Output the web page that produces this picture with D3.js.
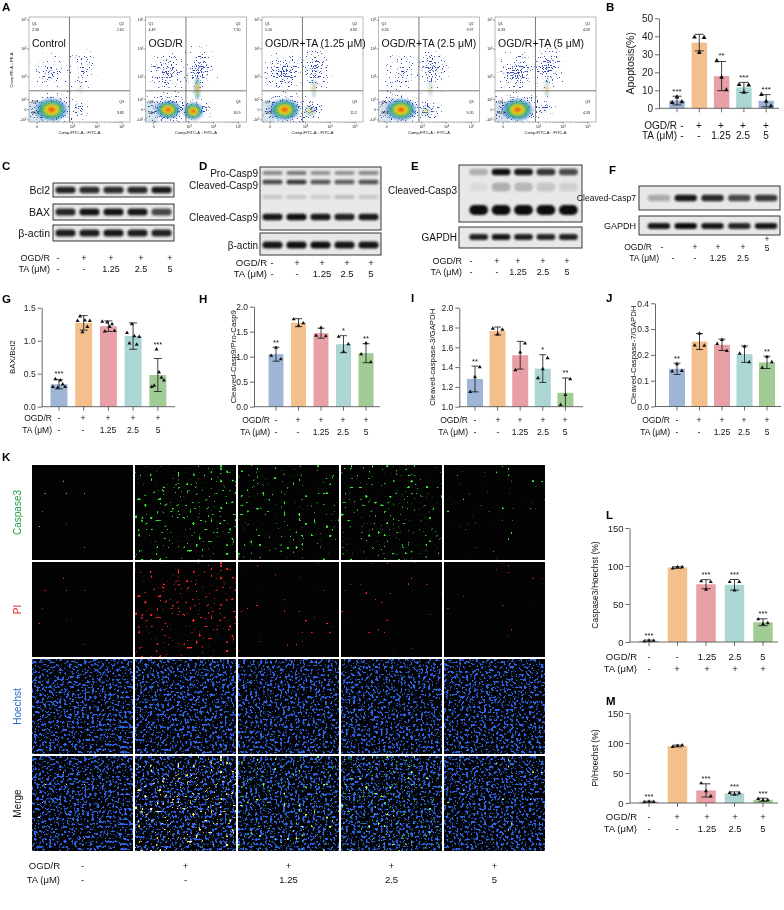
<!DOCTYPE html>
<html>
<head>
<meta charset="utf-8">
<script src="https://cdn.jsdelivr.net/npm/d3@7"></script>
<style>
html, body { margin: 0; padding: 0; background: #fff; }
svg { display: block; }
</style>
</head>
<body>
<svg id="fig" width="784" height="910"></svg>
<script>
// ---------------- data ----------------
// A: flow cytometry, quadrant percentages
var flowGroups = ["Control", "OGD/R", "OGD/R+TA (1.25 μM)", "OGD/R+TA (2.5 μM)", "OGD/R+TA (5 μM)"];
var flowQ1 = [2.58, 4.49, 5.16, 3.26, 6.33];
var flowQ2 = [2.61, 7.90, 4.82, 3.97, 4.59];
var flowQ3 = [3.85, 30.9, 11.2, 9.20, 4.33];
var flowQ4 = [91.0, 56.7, 78.8, 83.6, 84.8];

// treatment rows
var ogdRow = ["-", "+", "+", "+", "+"];
var taRow = ["-", "-", "1.25", "2.5", "5"];

// B: apoptosis (%)
var apoMean = [4.3, 36.5, 17.9, 11.6, 4.2];
var apoSD = [2.4, 4.6, 8.1, 2.8, 3.4];
var apoPts = [[3.2, 6.2, 3.6], [39.5, 31.0, 39.3], [26.4, 17.2, 10.2], [13.1, 8.8, 12.9], [7.6, 3.8, 1.2]];
var apoSig = ["***", "", "**", "***", "***"];

// C-F: band intensities per lane (0-1)
var bcl2Band = [0.9, 0.86, 0.86, 0.88, 0.94];
var baxBand = [0.88, 0.96, 0.96, 0.95, 0.72];
var actinCBand = [0.92, 0.92, 0.94, 0.92, 0.9];
var proCasp9Band = [0.42, 0.5, 0.38, 0.38, 0.42];
var clCasp9UpBand = [0.72, 0.8, 0.66, 0.62, 0.68];
var clCasp9FaintBand = [0.14, 0.14, 0.12, 0.2, 0.14];
var clCasp9Band = [0.95, 0.98, 0.94, 0.9, 0.93];
var actinDBand = [0.95, 0.98, 0.98, 0.95, 0.95];
var clCasp3UpBand = [0.25, 0.98, 0.95, 0.82, 0.72];
var clCasp3MidBand = [0.05, 0.25, 0.22, 0.15, 0.1];
var clCasp3Band = [1, 1, 1, 1, 1];
var gapdhEBand = [0.9, 0.95, 0.9, 0.88, 0.9];
var clCasp7Band = [0.28, 0.95, 0.88, 0.72, 0.8];
var gapdhFBand = [0.95, 1, 0.95, 0.88, 0.95];

// G: BAX/Bcl2
var baxMean = [0.34, 1.27, 1.22, 1.07, 0.48];
var baxSD = [0.07, 0.11, 0.08, 0.2, 0.25];
var baxPts = [[0.3, 0.42, 0.29, 0.4, 0.34, 0.3], [1.3, 1.37, 1.13, 1.31, 1.21, 1.3], [1.29, 1.14, 1.28, 1.21, 1.25, 1.15], [1.12, 0.96, 1.25, 1.07, 0.94, 1.06], [0.3, 0.32, 0.87, 0.52, 0.44, 0.4]];
var baxSig = ["***", "", "", "", "***"];

// H: Cleaved-Casp9/Pro-Casp9
var c9Mean = [1.05, 1.68, 1.47, 1.25, 1.07];
var c9SD = [0.14, 0.08, 0.1, 0.17, 0.19];
var c9Pts = [[1.02, 1.18, 0.95], [1.75, 1.62, 1.67], [1.42, 1.58, 1.41], [1.4, 1.1, 1.25], [1.05, 1.27, 0.89]];
var c9Sig = ["**", "", "", "*", "**"];

// I: Cleaved-caspase-3/GAPDH
var c3Mean = [1.28, 1.765, 1.52, 1.385, 1.14];
var c3SD = [0.13, 0.04, 0.14, 0.14, 0.15];
var c3Pts = [[1.15, 1.3, 1.4], [1.79, 1.73, 1.78], [1.37, 1.55, 1.64], [1.29, 1.38, 1.49], [1.02, 1.12, 1.28]];
var c3Sig = ["**", "", "", "*", "**"];

// J: Cleaved-Caspase-7/GAPDH
var c7Mean = [0.146, 0.252, 0.239, 0.203, 0.171];
var c7SD = [0.022, 0.031, 0.022, 0.032, 0.024];
var c7Pts = [[0.136, 0.164, 0.138], [0.237, 0.283, 0.236], [0.243, 0.258, 0.216], [0.205, 0.232, 0.172], [0.15, 0.192, 0.172]];
var c7Sig = ["**", "", "", "", "**"];

// K: immunofluorescence rows
var kRows = ["Caspase3", "PI", "Hoechst", "Merge"];

// L: Caspase3/Hoechst (%)
var casp3Mean = [1.5, 98, 76, 75.3, 26];
var casp3SD = [1, 1, 6, 7, 4.5];
var casp3Pts = [[1, 1.8, 1.7], [97, 98.5, 98.5], [80, 69, 79], [79, 68, 79], [30, 23.5, 25]];
var casp3Sig = ["***", "", "***", "***", "***"];
var lOgdRow = ["-", "-", "1.25", "2.5", "5"];
var lTaRow = ["-", "+", "+", "+", "+"];

// M: PI/Hoechst (%)
var piMean = [2, 95, 21, 16, 5.5];
var piSD = [1, 1.5, 11, 2.5, 2.5];
var piPts = [[1.5, 2.5, 2], [93.5, 95.5, 96], [33, 20, 11], [17, 14.5, 16.5], [7, 4.5, 5]];
var piSig = ["***", "", "***", "***", "***"];

// ---------------- drawing ----------------
var FONT = "'Liberation Sans', Arial, Helvetica, sans-serif";
var svg = d3.select("#fig").attr("font-family", FONT);
var defs = svg.append("defs");
var barColors = ["#9fb5d6", "#f3bf8d", "#e8a0a6", "#abd6d3", "#a2cc95"];
var apoColors = ["#9fb5d6", "#f3bf8d", "#e8a0a6", "#abd6d3", "#9fb5d6"];

function txt(parent, x, y, s, size, opt) {
    opt = opt || {};
    return parent.append("text")
        .attr("x", x).attr("y", y).attr("dy", "0.35em")
        .attr("text-anchor", opt.anchor || "middle")
        .attr("font-size", size)
        .attr("font-weight", opt.bold ? "bold" : null)
        .attr("fill", opt.fill || "#111")
        .attr("transform", opt.rotate ? "rotate(-90," + x + "," + y + ")" : null)
        .text(s);
}

function letter(x, y, s) {
    svg.append("text").attr("x", x).attr("y", y).attr("font-size", 11.5)
        .attr("font-weight", "bold").attr("fill", "#000").text(s);
}

// treatment rows under a panel
function treatRows(g, endX, xs, y1, y2, row1, row2, size) {
    txt(g, endX, y1, "OGD/R", size, {anchor: "end"});
    txt(g, endX, y2, "TA (μM)", size, {anchor: "end"});
    row1.forEach(function(s, i) { txt(g, xs[i], y1, s, size); });
    row2.forEach(function(s, i) { txt(g, xs[i], y2, s, size); });
}

// ---- filters ----
var blur = defs.append("filter").attr("id", "bandBlur").attr("x", "-30%").attr("y", "-100%")
    .attr("width", "160%").attr("height", "300%");
blur.append("feGaussianBlur").attr("stdDeviation", 0.9);

var softBlur = defs.append("filter").attr("id", "softBlur").attr("x", "-30%").attr("y", "-30%")
    .attr("width", "160%").attr("height", "160%");
softBlur.append("feGaussianBlur").attr("stdDeviation", 0.8);

// noise speckle whose density follows the alpha of the shape it is applied to
function scatterFilter(id, freq, seed, color) {
    var f = defs.append("filter").attr("id", id).attr("x", 0).attr("y", 0)
        .attr("width", 1).attr("height", 1).attr("color-interpolation-filters", "sRGB");
    f.append("feTurbulence").attr("type", "fractalNoise").attr("baseFrequency", freq)
        .attr("numOctaves", 1).attr("seed", seed).attr("result", "n");
    f.append("feColorMatrix").attr("in", "n").attr("type", "matrix")
        .attr("values", "0 0 0 0 0  0 0 0 0 0  0 0 0 0 0  1 0 0 0 0").attr("result", "na");
    f.append("feComposite").attr("in", "na").attr("in2", "SourceAlpha").attr("operator", "arithmetic")
        .attr("k1", 0).attr("k2", 20).attr("k3", 6).attr("k4", -15.3).attr("result", "dots");
    f.append("feFlood").attr("flood-color", color).attr("result", "c");
    f.append("feComposite").attr("in", "c").attr("in2", "dots").attr("operator", "in");
}
scatterFilter("scatter", 0.8, 5, "#3347b0");

function dotFilter(id, freq, seed, thr, slope, color, octaves) {
    var f = defs.append("filter").attr("id", id).attr("x", 0).attr("y", 0)
        .attr("width", 1).attr("height", 1).attr("color-interpolation-filters", "sRGB");
    f.append("feTurbulence").attr("type", "fractalNoise").attr("baseFrequency", freq)
        .attr("numOctaves", octaves || 1).attr("seed", seed).attr("result", "n");
    f.append("feColorMatrix").attr("in", "n").attr("type", "matrix")
        .attr("values", "0 0 0 0 0  0 0 0 0 0  0 0 0 0 0  1 0 0 0 0").attr("result", "na");
    var ct = f.append("feComponentTransfer").attr("in", "na").attr("result", "dots");
    ct.append("feFuncA").attr("type", "linear").attr("slope", slope).attr("intercept", -slope * thr);
    f.append("feFlood").attr("flood-color", color).attr("result", "c");
    f.append("feComposite").attr("in", "c").attr("in2", "dots").attr("operator", "in");
}

// density gradient for flow cores
var dens = defs.append("radialGradient").attr("id", "dens");
[[0, "#d8201c", 1], [0.18, "#f08a12", 1], [0.34, "#e8dc1c", 1], [0.52, "#3fb24a", 0.95],
 [0.74, "#2a8fc8", 0.75], [1, "#2b46b4", 0]].forEach(function(s) {
    dens.append("stop").attr("offset", s[0]).attr("stop-color", s[1]).attr("stop-opacity", s[2]);
});
var scatG = defs.append("radialGradient").attr("id", "scatG");
scatG.append("stop").attr("offset", 0).attr("stop-color", "#000").attr("stop-opacity", 1);
scatG.append("stop").attr("offset", 1).attr("stop-color", "#000").attr("stop-opacity", 0);

// ================= A: flow plots =================
letter(2, 11, "A");
var qFmt = d3.format(".3r");
flowGroups.forEach(function(name, i) {
    var x0 = 29 + i * 116.5, y0 = 17, w = 101, h = 105;
    var g = svg.append("g");
    var fx = d3.scaleSymlog().constant(39).domain([0, 1e5]).range([x0 + 0.08 * w, x0 + 0.92 * w]);
    var fy = d3.scaleSymlog().constant(80).domain([-100, 1e5]).range([y0 + 0.98 * h, y0 + 0.03 * h]);
    var q1 = flowQ1[i], q2 = flowQ2[i], q3 = flowQ3[i], q4 = flowQ4[i];

    defs.append("clipPath").attr("id", "fclip" + i).append("rect")
        .attr("x", x0).attr("y", y0).attr("width", w).attr("height", h);
    var p = g.append("g").attr("clip-path", "url(#fclip" + i + ")");
    p.append("rect").attr("x", x0).attr("y", y0).attr("width", w).attr("height", h).attr("fill", "#fff");
    p.append("rect").attr("x", x0).attr("y", fy(80)).attr("width", fx(20) - x0)
        .attr("height", y0 + h - fy(80)).attr("fill", "#d6e4ec");

    // scattered events: [cx, cy, rx, ry, weight]; weight follows the quadrant share
    var clouds = [
        [fx(110), fy(0), 38, 24, 0.95],
        [fx(100), fy(1500), 28, 28, Math.min(0.85, 0.35 + q1 / 10)],
        [fx(2500), fy(2000), 22, 30, Math.min(0.85, 0.4 + q2 / 10)],
        [fx(1800), fy(0), 12 + q3 * 0.5, 15, Math.min(0.9, 0.45 + q3 / 15)]
    ];
    p.selectAll("ellipse.sc").data(clouds).join("ellipse")
        .attr("cx", function(d) { return d[0]; }).attr("cy", function(d) { return d[1]; })
        .attr("rx", function(d) { return d[2]; }).attr("ry", function(d) { return d[3]; })
        .attr("fill", "url(#scatG)").attr("fill-opacity", function(d) { return d[4]; })
        .attr("filter", "url(#scatter)");

    // dense cores
    p.append("ellipse").attr("cx", fx(110)).attr("cy", fy(0))
        .attr("rx", 1.8 * Math.sqrt(q4)).attr("ry", 1.3 * Math.sqrt(q4))
        .attr("fill", "url(#dens)").attr("filter", "url(#softBlur)");
    p.append("ellipse").attr("cx", fx(1500)).attr("cy", fy(-10))
        .attr("rx", 1.9 * Math.sqrt(q3)).attr("ry", 1.7 * Math.sqrt(q3))
        .attr("fill", "url(#dens)").attr("opacity", Math.min(1, q3 / 25)).attr("filter", "url(#softBlur)");
    p.append("ellipse").attr("cx", fx(2200)).attr("cy", fy(350))
        .attr("rx", 1.2 * Math.sqrt(q2)).attr("ry", 4.5 * Math.sqrt(q2))
        .attr("fill", "url(#dens)").attr("opacity", Math.min(0.8, q2 / 10)).attr("filter", "url(#softBlur)");

    // gates
    g.append("line").attr("x1", x0).attr("x2", x0 + w).attr("y1", fy(280)).attr("y2", fy(280))
        .attr("stroke", "#555").attr("stroke-width", 0.8);
    g.append("line").attr("x1", fx(740)).attr("x2", fx(740)).attr("y1", y0).attr("y2", y0 + h)
        .attr("stroke", "#555").attr("stroke-width", 0.8);
    g.append("rect").attr("x", x0).attr("y", y0).attr("width", w).attr("height", h)
        .attr("fill", "none").attr("stroke", "#888").attr("stroke-width", 0.6);

    // quadrant labels
    txt(g, x0 + 3, 24, "Q1", 3.6, {anchor: "start"});
    txt(g, x0 + 3, 30, qFmt(q1), 3.6, {anchor: "start"});
    txt(g, x0 + 95, 24, "Q2", 3.6, {anchor: "end"});
    txt(g, x0 + 95, 30, qFmt(q2), 3.6, {anchor: "end"});
    txt(g, x0 + 3, 102, "Q4", 3.6, {anchor: "start"});
    txt(g, x0 + 3, 113, qFmt(q4), 3.6, {anchor: "start"});
    txt(g, x0 + 95, 102, "Q3", 3.6, {anchor: "end"});
    txt(g, x0 + 95, 113, qFmt(q3), 3.6, {anchor: "end"});
    txt(g, x0 + 3, 43, name, 10.5, {anchor: "start"});

    // axes ticks
    function sup(sel, base, e) {
        sel.text(null);
        sel.append("tspan").text(base);
        sel.append("tspan").attr("dy", -1.2).attr("font-size", 2.6).text(e);
    }
    var xt = [[0, "", ""], [1e3, "10", "3"], [1e4, "10", "4"], [1e5, "10", "5"]];
    var xMinor = [2e2, 4e2, 6e2, 8e2, 2e3, 3e3, 4e3, 5e3, 6e3, 7e3, 8e3, 9e3, 2e4, 3e4, 4e4, 5e4, 6e4, 7e4, 8e4, 9e4];
    xMinor.forEach(function(v) {
        g.append("line").attr("x1", fx(v)).attr("x2", fx(v)).attr("y1", y0 + h).attr("y2", y0 + h + 1)
            .attr("stroke", "#555").attr("stroke-width", 0.4);
    });
    xt.forEach(function(t) {
        g.append("line").attr("x1", fx(t[0])).attr("x2", fx(t[0])).attr("y1", y0 + h).attr("y2", y0 + h + 2)
            .attr("stroke", "#444").attr("stroke-width", 0.5);
        var lab = txt(g, fx(t[0]), 127, t[0] === 0 ? "0" : "", 3.4);
        if (t[0] !== 0) sup(lab, t[1], t[2]);
    });
    var yt = [[-100, "-10", "2"], [0, "0", ""], [100, "10", "2"], [1e3, "10", "3"], [1e4, "10", "4"], [1e5, "10", "5"]];
    yt.forEach(function(t) {
        g.append("line").attr("x1", x0 - 2).attr("x2", x0).attr("y1", fy(t[0])).attr("y2", fy(t[0]))
            .attr("stroke", "#444").attr("stroke-width", 0.5);
        var lab = txt(g, x0 - 2.5, fy(t[0]), "", 3.4, {anchor: "end"});
        sup(lab, t[1], t[2]);
    });
    txt(g, x0 + w / 2, 133, "Comp-FITC-A :: FITC-A", 4);
    if (i === 0) txt(g, 12, 70, "Comp-PE-A :: PE-A", 4, {rotate: true});
});

// ================= bar chart helper =================
function barChart(o) {
    var g = svg.append("g");
    var n = o.means.length;
    var y = d3.scaleLinear().domain(o.domain).range([o.yBase, o.yTop]);
    var pad = 1 - o.barW / o.step;
    var x = d3.scaleBand().domain(d3.range(n))
        .range([o.c0 - o.step / 2, o.c0 + o.step * (n - 0.5)])
        .paddingInner(pad).paddingOuter(pad / 2);
    var xc = function(i) { return x(i) + x.bandwidth() / 2; };
    var lo = o.domain[0];

    g.selectAll("rect.bar").data(o.means).join("rect")
        .attr("x", function(d, i) { return x(i); })
        .attr("width", x.bandwidth())
        .attr("y", function(d) { return y(d); })
        .attr("height", function(d) { return y(lo) - y(d); })
        .attr("fill", function(d, i) { return o.colors[i]; });

    // error bars (mean ± SD)
    var cap = o.cap || 7;
    o.means.forEach(function(m, i) {
        var top = m + o.sd[i], bot = m - o.sd[i];
        var e = g.append("g").attr("stroke", "#111").attr("stroke-width", 0.8);
        e.append("line").attr("x1", xc(i)).attr("x2", xc(i))
            .attr("y1", y(Math.max(lo, bot))).attr("y2", y(top));
        e.append("line").attr("x1", xc(i) - cap / 2).attr("x2", xc(i) + cap / 2)
            .attr("y1", y(top)).attr("y2", y(top));
        if (bot > lo) {
            e.append("line").attr("x1", xc(i) - cap / 2).attr("x2", xc(i) + cap / 2)
                .attr("y1", y(bot)).attr("y2", y(bot));
        }
    });

    // individual points
    var sym = d3.symbol(d3.symbolTriangle, o.ptSize || 8);
    o.points.forEach(function(arr, i) {
        var m = arr.length, spread = Math.min(x.bandwidth() * 0.72, m * 3.2);
        g.selectAll(null).data(arr).join("path").attr("d", sym)
            .attr("transform", function(v, j) {
                var dx = m > 1 ? (j / (m - 1) - 0.5) * spread : 0;
                return "translate(" + (xc(i) + dx) + "," + y(Math.max(lo, v)) + ")";
            })
            .attr("fill", "#111");
    });

    // significance marks
    o.sig.forEach(function(s, i) {
        if (!s) return;
        var top = Math.max(o.means[i] + o.sd[i], d3.max(o.points[i]));
        g.append("text").attr("x", xc(i)).attr("y", y(top) - 2.5)
            .attr("text-anchor", "middle").attr("font-size", o.starSize || 8)
            .attr("fill", "#111").text(s);
    });

    // axes
    var ya = g.append("g").attr("transform", "translate(" + o.axisX + ",0)")
        .call(d3.axisLeft(y).tickValues(o.ticks).tickFormat(o.fmt).tickSize(4).tickSizeOuter(0).tickPadding(2));
    ya.selectAll("text").attr("font-family", FONT).attr("font-size", o.tickSize).attr("fill", "#222");
    ya.selectAll("line, path").attr("stroke", "#444").attr("stroke-width", 0.8);

    var xa = g.append("g").attr("transform", "translate(0," + o.yBase + ")")
        .call(d3.axisBottom(x).tickSize(4).tickFormat(""));
    xa.select(".domain").remove();
    xa.selectAll("line").attr("stroke", "#444").attr("stroke-width", 0.8);
    g.append("line").attr("x1", o.axisX).attr("x2", o.axisEnd)
        .attr("y1", o.yBase).attr("y2", o.yBase).attr("stroke", "#444").attr("stroke-width", 0.8);

    txt(g, o.titleX, (o.yBase + o.yTop) / 2, o.title, o.titleSize, {rotate: true});
    treatRows(g, o.rowEnd, o.rowX, o.row1Y, o.row2Y, o.row1 || ogdRow, o.row2 || taRow, o.rowSize);
    return g;
}

// ================= B =================
letter(606, 11, "B");
barChart({
    means: apoMean, sd: apoSD, points: apoPts, sig: apoSig, colors: apoColors,
    domain: [0, 50], ticks: [0, 10, 20, 30, 40, 50], fmt: d3.format("d"),
    yBase: 108.3, yTop: 18.3, axisX: 659, axisEnd: 779,
    c0: 677, step: 22.3, barW: 15.5, cap: 9, ptSize: 10, starSize: 8,
    tickSize: 10, title: "Apoptosis(%)", titleX: 630, titleSize: 10.5,
    rowEnd: 677, rowX: [682, 699, 721, 743, 766], row1Y: 125, row2Y: 135.5, rowSize: 10
});

// ================= blots =================
function blot(x, y, w, h, laneRange, bands) {
    var g = svg.append("g");
    g.append("rect").attr("x", x).attr("y", y).attr("width", w).attr("height", h)
        .attr("fill", "#e8e8e8").attr("stroke", "#222").attr("stroke-width", 0.9);
    var lane = d3.scaleBand().domain(d3.range(5)).range(laneRange).paddingInner(0.16).paddingOuter(0.1);
    bands.forEach(function(b) {
        g.selectAll(null).data(b.v).join("rect")
            .attr("x", function(d, i) { return lane(i); })
            .attr("width", lane.bandwidth())
            .attr("y", y + b.dy - b.h / 2).attr("height", b.h).attr("rx", b.h / 2)
            .attr("fill", "#111").attr("opacity", function(d) { return d; })
            .attr("filter", "url(#bandBlur)");
    });
    return g;
}

// C
letter(2, 170, "C");
blot(53, 183, 121, 14, [53, 174], [{dy: 7, h: 6.5, v: bcl2Band}]);
blot(53, 204, 121, 16, [53, 174], [{dy: 8, h: 7, v: baxBand}]);
blot(53, 225, 121, 16, [53, 174], [{dy: 8, h: 7, v: actinCBand}]);
txt(svg, 50, 190, "Bcl2", 10.5, {anchor: "end"});
txt(svg, 50, 212, "BAX", 10.5, {anchor: "end"});
txt(svg, 50, 233, "β-actin", 10.5, {anchor: "end"});
treatRows(svg, 50, [58, 84, 111, 141, 170], 258, 269, ogdRow, taRow, 9);

// D
letter(199, 170, "D");
blot(260, 167, 121, 63, [260, 381], [
    {dy: 6, h: 4, v: proCasp9Band},
    {dy: 15, h: 4.5, v: clCasp9UpBand},
    {dy: 30, h: 4, v: clCasp9FaintBand},
    {dy: 50, h: 6.5, v: clCasp9Band}
]);
blot(260, 233, 121, 22, [260, 381], [{dy: 12, h: 7, v: actinDBand}]);
txt(svg, 258, 173, "Pro-Casp9", 10, {anchor: "end"});
txt(svg, 258, 185, "Cleaved-Casp9", 10, {anchor: "end"});
txt(svg, 258, 217, "Cleaved-Casp9", 10, {anchor: "end"});
txt(svg, 258, 245, "β-actin", 10, {anchor: "end"});
treatRows(svg, 267, [272, 297, 322, 347, 371], 263, 274, ogdRow, taRow, 9.5);

// E
letter(411, 170, "E");
blot(459, 165, 123, 57, [467, 580], [
    {dy: 7, h: 6.5, v: clCasp3UpBand},
    {dy: 22, h: 9, v: clCasp3MidBand},
    {dy: 45, h: 10, v: clCasp3Band}
]);
blot(459, 227, 123, 21, [467, 580], [{dy: 10, h: 6, v: gapdhEBand}]);
txt(svg, 457, 190, "Cleaved-Casp3", 10, {anchor: "end"});
txt(svg, 457, 237, "GAPDH", 10, {anchor: "end"});
treatRows(svg, 462, [471, 497, 518, 543, 567], 261, 272, ogdRow, taRow, 9);

// F
letter(609, 174, "F");
blot(639, 186, 141, 24, [645, 780], [{dy: 12, h: 6.5, v: clCasp7Band}]);
blot(639, 216, 141, 19, [645, 780], [{dy: 10, h: 6, v: gapdhFBand}]);
txt(svg, 636, 198, "Cleaved-Casp7", 8.6, {anchor: "end"});
txt(svg, 636, 226, "GAPDH", 9, {anchor: "end"});
// row layout as printed in the figure: last column shifted up
txt(svg, 652, 247, "OGD/R", 8.5, {anchor: "end"});
txt(svg, 659, 258, "TA (μM)", 8.5, {anchor: "end"});
ogdRow.slice(0, 4).forEach(function(s, i) { txt(svg, [662, 695, 718, 743][i], 247, s, 8.5); });
txt(svg, 767, 239, ogdRow[4], 8.5);
txt(svg, 767, 248, taRow[4], 8.5);
taRow.slice(0, 4).forEach(function(s, i) { txt(svg, [673, 695, 718, 743][i], 258, s, 8.5); });

// ================= G-J =================
letter(2, 303, "G");
barChart({
    means: baxMean, sd: baxSD, points: baxPts, sig: baxSig, colors: barColors,
    domain: [0, 1.5], ticks: [0, 0.5, 1, 1.5], fmt: d3.format(".1f"),
    yBase: 406.7, yTop: 307.7, axisX: 41.7, axisEnd: 175,
    c0: 59, step: 24.7, barW: 17, cap: 8, ptSize: 7, starSize: 7.5,
    tickSize: 8.5, title: "BAX/Bcl2", titleX: 12, titleSize: 8,
    rowEnd: 52, rowX: [59, 83, 108, 133, 158], row1Y: 418, row2Y: 430.5, rowSize: 8.5
});

letter(199, 303, "H");
barChart({
    means: c9Mean, sd: c9SD, points: c9Pts, sig: c9Sig, colors: barColors,
    domain: [0, 2], ticks: [0, 0.5, 1, 1.5, 2], fmt: d3.format(".1f"),
    yBase: 406.7, yTop: 306.7, axisX: 254, axisEnd: 380,
    c0: 276, step: 22.5, barW: 15, cap: 7, ptSize: 7, starSize: 7.5,
    tickSize: 8.5, title: "Cleaved-Casp9/Pro-Casp9", titleX: 233, titleSize: 7.8,
    rowEnd: 270, rowX: [276, 298, 321, 343, 366], row1Y: 420, row2Y: 432, rowSize: 8.5
});

letter(411, 302, "I");
barChart({
    means: c3Mean, sd: c3SD, points: c3Pts, sig: c3Sig, colors: barColors,
    domain: [1, 2], ticks: [1, 1.2, 1.4, 1.6, 1.8, 2], fmt: d3.format(".1f"),
    yBase: 406.7, yTop: 307.7, axisX: 459.3, axisEnd: 583,
    c0: 475, step: 22.6, barW: 16, cap: 7, ptSize: 7, starSize: 7.5,
    tickSize: 8.5, title: "Cleaved-caspase-3/GAPDH", titleX: 432, titleSize: 7.8,
    rowEnd: 468, rowX: [475, 498, 520, 543, 565], row1Y: 420, row2Y: 432, rowSize: 8.5
});

letter(606, 302, "J");
barChart({
    means: c7Mean, sd: c7SD, points: c7Pts, sig: c7Sig, colors: barColors,
    domain: [0, 0.4], ticks: [0, 0.1, 0.2, 0.3, 0.4], fmt: d3.format(".1f"),
    yBase: 406.5, yTop: 303.3, axisX: 655, axisEnd: 781,
    c0: 677, step: 22.5, barW: 16, cap: 7, ptSize: 7, starSize: 7.5,
    tickSize: 8.5, title: "Cleaved-Caspase-7/GAPDH", titleX: 633, titleSize: 7.8,
    rowEnd: 670, rowX: [677, 699, 722, 744, 767], row1Y: 420, row2Y: 432, rowSize: 8.5
});

// ================= K: fluorescence grid =================
letter(2, 461, "K");
var cellW = 101, cellH = 95, gridX = 32, gridY = 465, gap = 2;
// dot density of each stain follows the quantified percentage in L / M
var dotThr = function(pct) { return 0.79 - 0.12 * Math.sqrt(Math.max(0, pct) / 100); };
ogdRow.forEach(function(d, c) {
    dotFilter("casp" + c, 0.33, 31 + c, dotThr(casp3Mean[c]), 20, "#33e633");
    dotFilter("pi" + c, 0.33, 31 + c, dotThr(piMean[c]), 20, "#ff2020");
    dotFilter("hoe" + c, 0.4, 11 + c, 0.55, 12, "#2a62e8", 2);
});
var rowColors = {"Caspase3": "#1d9a3a", "PI": "#e3262b", "Hoechst": "#2b6fd0", "Merge": "#111"};
var rowLayers = {"Caspase3": ["casp"], "PI": ["pi"], "Hoechst": ["hoe"], "Merge": ["hoe", "casp", "pi"]};
kRows.forEach(function(row, r) {
    var cy = gridY + r * (cellH + gap);
    txt(svg, 17, cy + cellH / 2, row, 10, {rotate: true, fill: rowColors[row]});
    ogdRow.forEach(function(d, c) {
        var cell = svg.append("g")
            .attr("transform", "translate(" + (gridX + c * (cellW + gap)) + "," + cy + ")");
        cell.append("rect").attr("width", cellW).attr("height", cellH).attr("fill", "#030303");
        rowLayers[row].forEach(function(l) {
            cell.append("rect").attr("width", cellW).attr("height", cellH).attr("fill", "#fff")
                .attr("filter", "url(#" + l + c + ")").style("mix-blend-mode", "screen");
        });
    });
});
var colX = ogdRow.map(function(d, c) { return gridX + c * (cellW + gap) + cellW / 2; });
treatRows(svg, 60, colX, 866, 880, ogdRow, taRow, 9.5);

// ================= L, M =================
letter(606, 519, "L");
barChart({
    means: casp3Mean, sd: casp3SD, points: casp3Pts, sig: casp3Sig, colors: barColors,
    domain: [0, 150], ticks: [0, 50, 100, 150], fmt: d3.format("d"),
    yBase: 642, yTop: 528, axisX: 629.5, axisEnd: 778,
    c0: 649, step: 28.5, barW: 19.5, cap: 9, ptSize: 7, starSize: 7.5,
    tickSize: 9.5, title: "Caspase3/Hoechst (%)", titleX: 595, titleSize: 8.5,
    rowEnd: 637, rowX: [649, 677, 707, 735, 763], row1Y: 657, row2Y: 669, rowSize: 9.5,
    row1: lOgdRow, row2: lTaRow
});

letter(606, 705, "M");
barChart({
    means: piMean, sd: piSD, points: piPts, sig: piSig, colors: barColors,
    domain: [0, 150], ticks: [0, 50, 100, 150], fmt: d3.format("d"),
    yBase: 803, yTop: 713, axisX: 629.5, axisEnd: 778,
    c0: 649, step: 28.5, barW: 19.5, cap: 9, ptSize: 7, starSize: 7.5,
    tickSize: 9.5, title: "PI/Hoechst (%)", titleX: 595, titleSize: 8.5,
    rowEnd: 637, rowX: [649, 677, 707, 735, 763], row1Y: 817, row2Y: 829, rowSize: 9.5
});
</script>
</body>
</html>
